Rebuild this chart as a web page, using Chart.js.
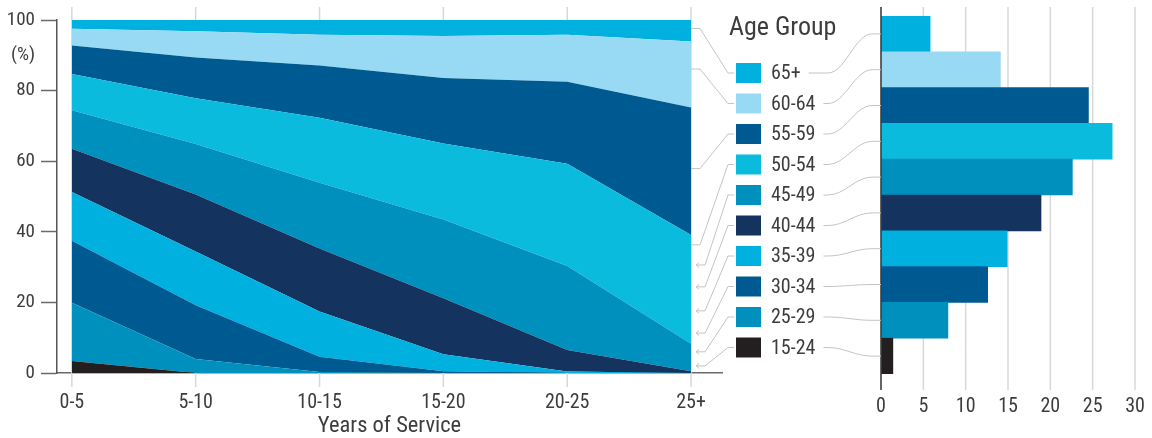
<!DOCTYPE html>
<html><head><meta charset="utf-8">
<script src="https://cdn.jsdelivr.net/npm/chart.js@4.4.1/dist/chart.umd.min.js"></script>
<style>
html,body{margin:0;padding:0;background:#fff;}
#wrap{position:relative;width:1152px;height:438px;overflow:hidden;}
canvas{position:absolute;left:0;top:0;}
</style></head><body>
<div id="wrap"><canvas id="area" width="1152" height="438"></canvas><canvas id="bars" width="1152" height="438"></canvas></div>
<script>
const FONT = "'Roboto Condensed','Liberation Sans Narrow','DejaVu Sans Condensed',Roboto,sans-serif";
const TEXT = '#3d3d3d';

// ---- data ----
const serviceCategories = ['0-5', '5-10', '10-15', '15-20', '20-25', '25+'];
const ageGroups = ['15-24', '25-29', '30-34', '35-39', '40-44', '45-49', '50-54', '55-59', '60-64', '65+'];
const share_15_24 = [3.4, 0, 0, 0, 0, 0];
const share_25_29 = [16.5, 4.0, 0.3, 0, 0, 0];
const share_30_34 = [17.6, 15.2, 4.3, 0.5, 0, 0];
const share_35_39 = [13.8, 15.2, 12.8, 4.8, 0.4, 0];
const share_40_44 = [12.2, 16.2, 17.9, 15.9, 6.1, 0.5];
const share_45_49 = [10.9, 14.3, 18.6, 22.3, 23.8, 7.8];
const share_50_54 = [10.3, 12.9, 18.4, 21.5, 29.0, 30.8];
const share_55_59 = [8.1, 11.6, 14.8, 18.6, 23.2, 36.1];
const share_60_64 = [4.7, 7.4, 8.7, 11.9, 13.3, 18.7];
const share_65_plus = [2.5, 3.2, 4.2, 4.5, 4.2, 6.1];
const areaSeries = [share_15_24, share_25_29, share_30_34, share_35_39, share_40_44, share_45_49, share_50_54, share_55_59, share_60_64, share_65_plus];

const barCategories = ['65+', '60-64', '55-59', '50-54', '45-49', '40-44', '35-39', '30-34', '25-29', '15-24'];
const barValues = [5.8, 14.1, 24.5, 27.3, 22.6, 18.9, 14.9, 12.6, 7.9, 1.4];

const yTickValues = [0, 20, 40, 60, 80, 90, 100];
const barTickValues = [0, 5, 10, 15, 20, 25, 30];

// connector anchors on the area chart's right edge (in % units), legend order top->bottom
const connectorAnchors = [97.6, 86.1, 57.9, 36.3, 30.6, 24.4, 17.6, 11.3, 6.0, 2.0];

const colorOf = {
  '65+': '#00B0DE', '60-64': '#98D9F3', '55-59': '#005A92', '50-54': '#0ABBDD',
  '45-49': '#0090BD', '40-44': '#14335F', '35-39': '#00B0DE', '30-34': '#005A92',
  '25-29': '#0090BD', '15-24': '#231F20'
};

Chart.defaults.font.family = FONT;
Chart.defaults.color = TEXT;

const GRID = '#d8d8d8';

const areaGridPlugin = {
  id: 'areaGrid',
  beforeDatasetsDraw(chart) {
    const ctx = chart.ctx, x = chart.scales.x, ca = chart.chartArea;
    ctx.save();
    ctx.strokeStyle = GRID; ctx.lineWidth = 1.5;
    serviceCategories.forEach((_, i) => {
      const px = x.getPixelForValue(i);
      ctx.beginPath(); ctx.moveTo(px, 7); ctx.lineTo(px, ca.bottom + 14); ctx.stroke();
    });
    ctx.restore();
  }
};

const areaChart = new Chart(document.getElementById('area'), {
  type: 'line',
  data: {
    datasets: ageGroups.map((g, i) => ({
      label: g,
      data: areaSeries[i].map((v, j) => ({ x: j, y: v })),
      backgroundColor: colorOf[g],
      borderWidth: 0,
      pointRadius: 0,
      tension: 0,
      fill: i === 0 ? 'origin' : '-1'
    }))
  },
  options: {
    responsive: false, animation: false, devicePixelRatio: 1,
    layout: { padding: { left: 0, right: 430, top: 20, bottom: 0 } },
    plugins: { legend: { display: false }, tooltip: { enabled: false } },
    scales: {
      x: {
        type: 'linear', min: -0.12, max: 5.25,
        afterBuildTicks: s => { s.ticks = serviceCategories.map((_, i) => ({ value: i })); },
        ticks: { callback: v => serviceCategories[v], font: { size: 20 }, color: TEXT, padding: 4, maxRotation: 0, autoSkip: false },
        grid: { display: true, drawOnChartArea: false, color: 'transparent', tickColor: 'transparent', tickLength: 14 },
        border: { display: true, color: '#6a6a6a', width: 1.5 },
        title: { display: true, text: 'Years of Service', font: { size: 22.5 }, color: TEXT, padding: { top: 0, bottom: -2 } },
        afterFit: s => { s.height = 65; }
      },
      y: {
        stacked: true, min: 0, max: 100,
        afterBuildTicks: s => { s.ticks = yTickValues.map(v => ({ value: v })); },
        ticks: { callback: v => v === 90 ? '(%)' : String(v), font: { size: 19 }, color: TEXT, padding: 6 },
        grid: { display: true, drawOnChartArea: false, color: 'transparent', tickLength: 16, tickWidth: 1.5,
                tickColor: c => (c.tick && c.tick.value === 90) ? 'transparent' : '#6a6a6a' },
        border: { display: true, color: '#555', width: 1.5 },
        afterFit: s => { s.width = 57; }
      }
    }
  },
  plugins: [areaGridPlugin]
});

const barGridPlugin = {
  id: 'barGrid',
  beforeDatasetsDraw(chart) {
    const ctx = chart.ctx, x = chart.scales.x;
    ctx.save();
    ctx.strokeStyle = GRID; ctx.lineWidth = 1.5;
    barTickValues.slice(1).forEach(v => {
      const px = x.getPixelForValue(v);
      ctx.beginPath(); ctx.moveTo(px, 7); ctx.lineTo(px, 390); ctx.stroke();
    });
    ctx.restore();
  },
  afterDatasetsDraw(chart) {
    const ctx = chart.ctx, x = chart.scales.x;
    const px = x.getPixelForValue(0);
    ctx.save();
    ctx.strokeStyle = '#333'; ctx.lineWidth = 1.5;
    ctx.beginPath(); ctx.moveTo(px, 7); ctx.lineTo(px, 390); ctx.stroke();
    ctx.restore();
  }
};

const legendPlugin = {
  id: 'ageLegend',
  afterDraw(chart) {
    const ctx = chart.ctx;
    const ay = areaChart.scales.y, ax = areaChart.scales.x;
    const by = chart.scales.y, bx = chart.scales.x;
    const edgeX = ax.getPixelForValue(serviceCategories.length - 1);
    const axisX = bx.getPixelForValue(0);
    ctx.save();
    ctx.fillStyle = TEXT;
    ctx.font = '26px ' + FONT;
    ctx.textBaseline = 'alphabetic';
    ctx.textAlign = 'left';
    ctx.fillText('Age Group', 729, 35);
    ctx.font = '20px ' + FONT;
    ctx.textBaseline = 'middle';
    barCategories.forEach((g, i) => {
      const rowY = 73 + 30.5 * i;
      ctx.fillStyle = colorOf[g];
      ctx.fillRect(736, rowY - 10, 25, 20);
      ctx.fillStyle = TEXT;
      ctx.fillText(g, 771, rowY + 1);
      const labelEnd = 771 + ctx.measureText(g).width;
      // left connector
      ctx.strokeStyle = '#c4c4c4'; ctx.lineWidth = 1;
      const sy = ay.getPixelForValue(connectorAnchors[i]);
      ctx.beginPath();
      if (i < 4) {
        ctx.moveTo(edgeX, sy); ctx.lineTo(edgeX + 9, sy);
      } else {
        ctx.moveTo(edgeX + 5, sy); ctx.lineTo(edgeX + 14, sy);
        ctx.moveTo(edgeX + 5, sy); ctx.lineTo(edgeX + 8, sy - 2.5);
        ctx.moveTo(edgeX + 5, sy); ctx.lineTo(edgeX + 8, sy + 2.5);
        ctx.moveTo(edgeX + 14, sy);
      }
      ctx.lineTo(728, rowY); ctx.lineTo(734, rowY);
      ctx.stroke();
      // right connector
      const barY = by.getPixelForValue(i);
      ctx.beginPath();
      ctx.moveTo(labelEnd + 8, rowY);
      ctx.lineTo(828, rowY);
      ctx.bezierCurveTo(845, rowY, 855, barY, 872, barY);
      ctx.lineTo(axisX, barY);
      ctx.stroke();
    });
    ctx.restore();
  }
};

new Chart(document.getElementById('bars'), {
  type: 'bar',
  data: {
    labels: barCategories,
    datasets: [{
      data: barValues,
      backgroundColor: barCategories.map(c => colorOf[c]),
      borderWidth: 0, barPercentage: 1, categoryPercentage: 1
    }]
  },
  options: {
    indexAxis: 'y', responsive: false, animation: false, devicePixelRatio: 1,
    layout: { padding: { left: 881, right: 17, top: 16, bottom: 0 } },
    plugins: { legend: { display: false }, tooltip: { enabled: false } },
    scales: {
      x: {
        min: 0, max: 30,
        afterBuildTicks: s => { s.ticks = barTickValues.map(v => ({ value: v })); },
        ticks: { font: { size: 20 }, color: TEXT, padding: 5 },
        grid: { display: true, drawOnChartArea: false, color: 'transparent', tickColor: 'transparent', tickLength: 16 },
        border: { display: false },
        afterFit: s => { s.height = 64; }
      },
      y: { display: false }
    }
  },
  plugins: [barGridPlugin, legendPlugin]
});
</script>
</body></html>
